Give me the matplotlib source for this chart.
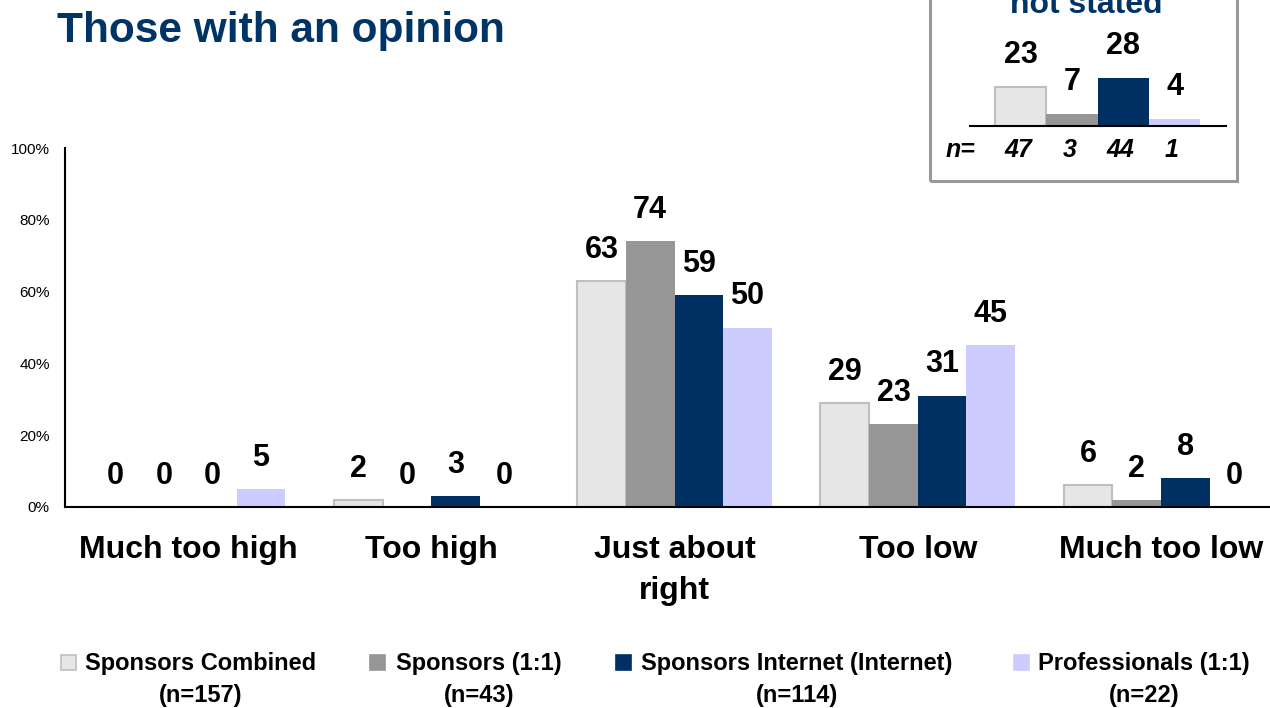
import matplotlib.pyplot as plt
from matplotlib.patches import Rectangle

plt.rcParams["font.family"] = ["Liberation Sans", "DejaVu Sans"]

# Response categories and the four survey groups
categories = ["Much too high", "Too high", "Just about\nright", "Too low", "Much too low"]
groups = ["Sponsors Combined", "Sponsors (1:1)", "Sponsors Internet (Internet)", "Professionals (1:1)"]
group_n = ["(n=157)", "(n=43)", "(n=114)", "(n=22)"]

# Percent of those with an opinion
combined = [0, 2, 63, 29, 6]
sponsors_1to1 = [0, 0, 74, 23, 2]
sponsors_internet = [0, 3, 59, 31, 8]
professionals = [5, 0, 50, 45, 0]
series = [combined, sponsors_1to1, sponsors_internet, professionals]

# Share with no opinion / not stated, and base sizes
not_stated = [23, 7, 28, 4]
not_stated_n = [47, 3, 44, 1]

fills = ["#E6E6E6", "#969696", "#003063", "#CCCCFF"]
edges = ["#BFBFBF", "#969696", "#003063", "#CCCCFF"]
NAVY = "#003366"

W, H = 1270, 708
fig = plt.figure(figsize=(W / 100, H / 100), dpi=100)


def fx(px):
    return px / W


def fy(py):
    return 1 - py / H


# Main chart
ax = fig.add_axes([fx(65), fy(507), fx(W - 65), (507 - 148) / H])
width = 0.2
for j, vals in enumerate(series):
    offs = (j - 1.5) * width
    xs = [i + offs for i in range(len(categories))]
    ax.bar(xs, vals, width=width, color=fills[j], edgecolor=edges[j],
           linewidth=1.5 if j == 0 else 0)
    for x, v in zip(xs, vals):
        ax.annotate(str(v), (x, v), xytext=(0, 22.5), textcoords="offset points",
                    ha="center", va="center", fontsize=22, fontweight="bold")

ax.set_xlim(-0.506, 4.448)
ax.set_ylim(0, 100)
ax.set_yticks(range(0, 101, 20))
ax.set_yticklabels([f"{t}%" for t in range(0, 101, 20)], fontsize=11)
ax.set_xticks(range(len(categories)))
ax.set_xticklabels(categories, fontsize=23, fontweight="bold", linespacing=1.5)
ax.tick_params(axis="y", length=0, pad=11)
ax.tick_params(axis="x", length=0, pad=20)
for side in ("top", "right"):
    ax.spines[side].set_visible(False)
for side in ("left", "bottom"):
    ax.spines[side].set_linewidth(1.5)

fig.text(fx(57), fy(42), "Those with an opinion", fontsize=30.5, fontweight="bold",
         color=NAVY, ha="left", va="baseline")

# Inset: no opinion / not stated
fig.add_artist(Rectangle((fx(930), fy(181)), fx(1237 - 930), 200 / H,
                         transform=fig.transFigure, fill=False,
                         edgecolor="#999999", linewidth=2.2, clip_on=False))
fig.text(fx(1086), fy(13), "not stated", fontsize=23, fontweight="bold",
         color=NAVY, ha="center", va="baseline")

inset = fig.add_axes([fx(970), fy(126), fx(1226 - 970), 126 / H])
inset.patch.set_alpha(0)
ipos = list(range(len(not_stated)))
inset.bar(ipos, not_stated, width=1.0, color=fills, edgecolor=edges,
          linewidth=[1.5, 0, 0, 0])
for x, v in zip(ipos, not_stated):
    inset.annotate(str(v), (x, v), xytext=(0, 23), textcoords="offset points",
                   ha="center", va="center", fontsize=22, fontweight="bold")
for x, n in zip(ipos, not_stated_n):
    inset.annotate(str(n), (x, 0), xycoords=("data", "axes fraction"),
                   xytext=(-2, -17.5), textcoords="offset points",
                   ha="center", va="center", fontsize=18, fontweight="bold",
                   fontstyle="italic")
fig.text(fx(961), fy(150), "n=", fontsize=18, fontweight="bold", fontstyle="italic",
         ha="center", va="center")
inset.set_xlim(-0.99, 4.0)
inset.set_ylim(0, 74)
inset.set_xticks([])
inset.set_yticks([])
for side in ("top", "right", "left"):
    inset.spines[side].set_visible(False)
inset.spines["bottom"].set_linewidth(1.5)

# Legend drawn beneath the chart
marker_left = [61, 370, 616, 1014]
text_left = [85, 396, 641, 1038]
for j in range(len(groups)):
    fig.add_artist(Rectangle((fx(marker_left[j]), fy(670)), fx(15), 15 / H,
                             transform=fig.transFigure, facecolor=fills[j],
                             edgecolor=edges[j], linewidth=1.2))
    fig.text(fx(text_left[j]), fy(652), f"{groups[j]}\n{group_n[j]}",
             fontsize=17, fontweight="bold", ha="left", va="top",
             multialignment="center", linespacing=1.5)

fig.savefig("out.png", dpi=100)
